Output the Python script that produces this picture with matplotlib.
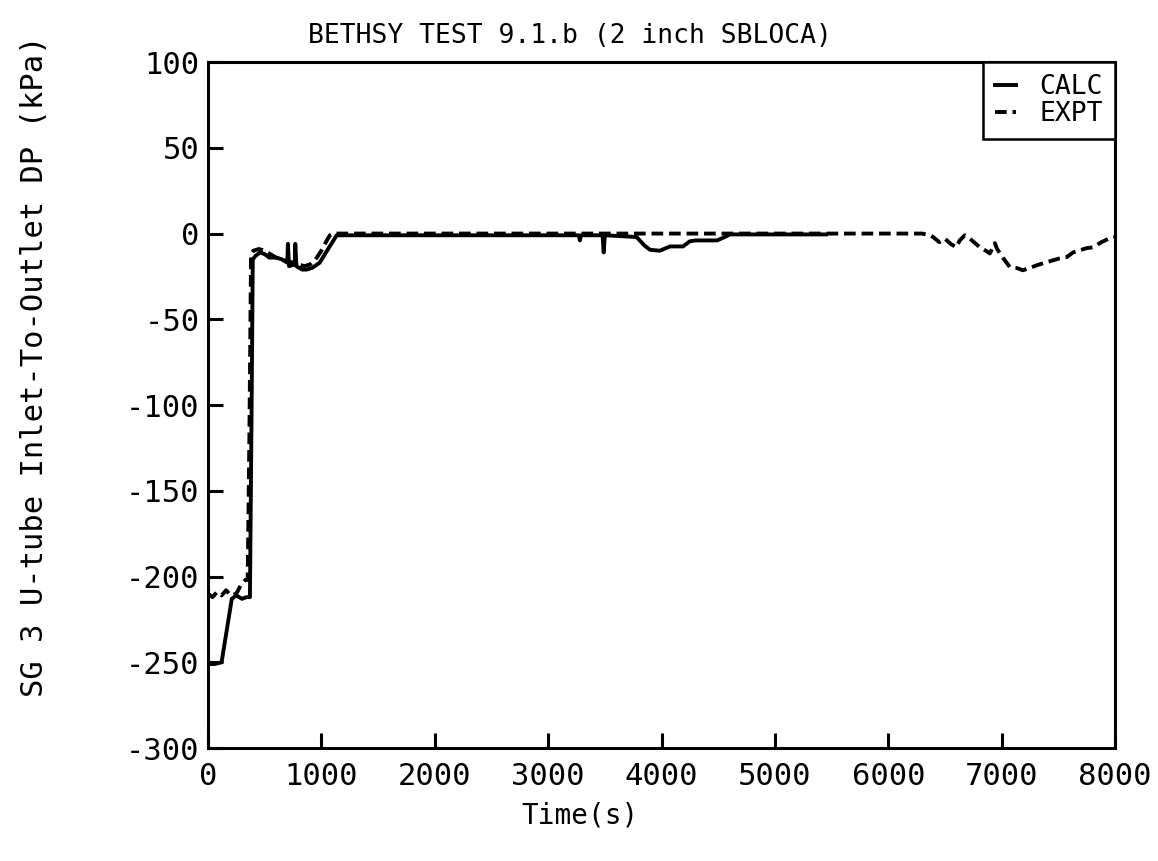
#!/usr/bin/env python3
"""BETHSY test 9.1.b SG 3 U-tube inlet-to-outlet DP, calc vs expt."""

import matplotlib
matplotlib.use("Agg")
import matplotlib.pyplot as plt

# CALC trace (s, kPa)
calc_t = [0, 60, 120, 210, 250, 300, 340, 370, 385, 395, 420, 460, 500, 540,
          600, 650, 700, 705, 715, 765, 770, 780, 830, 870, 920, 985, 1050,
          1135, 1200, 2000, 3000, 3270, 3280, 3290, 3480, 3490, 3500, 3780,
          3850, 3900, 3985, 4075, 4190, 4250, 4300, 4490, 4575, 4600, 5450]
calc_p = [-251, -251, -250, -213, -211, -213, -212, -212, -100, -15, -13, -11,
          -12, -14, -14, -15, -17, -6, -19, -18, -6, -19, -21, -21, -20, -17,
          -10, -1, -1, -1, -1, -1, -4, -1, -1, -11, -1, -2, -7, -9.5, -10,
          -7.5, -7.5, -4.5, -4, -4, -1.5, -0.5, -0.5]

# EXPT trace (s, kPa)
expt_t = [0, 40, 80, 120, 160, 200, 250, 290, 330, 350, 365, 380, 400, 450,
          500, 550, 600, 650, 700, 750, 800, 850, 900, 950, 1000, 1040, 1075,
          1100, 2000, 3000, 4000, 5000, 5900, 6300, 6365, 6395, 6450, 6500,
          6550, 6600, 6630, 6675, 6720, 6808, 6860, 6896, 6940, 6960, 7010,
          7072, 7130, 7187, 7250, 7310, 7380, 7452, 7510, 7575, 7630, 7690,
          7750, 7805, 7880, 7955, 8000]
expt_p = [-210, -212, -209, -211, -208, -211, -210, -205, -202, -202, -120,
          -12, -10, -9, -10, -12, -14, -15, -16, -17, -18, -19, -18, -15, -10,
          -5, -1, 0, 0, 0, 0, 0, 0, 0, -1, -2, -5, -3, -6, -8, -4, -1, -3, -8,
          -10, -11.6, -5.6, -9, -14, -19.5, -20, -21.4, -20, -18.5, -17, -15.6,
          -14.5, -13.7, -11, -9.7, -8.5, -8, -5, -2.7, -2]

x_ticks = [0, 1000, 2000, 3000, 4000, 5000, 6000, 7000, 8000]
y_ticks = [-300, -250, -200, -150, -100, -50, 0, 50, 100]

plt.rcParams["font.family"] = ["DejaVu Sans Mono"]

fig = plt.figure(figsize=(11.58, 8.61), dpi=100)
ax = fig.add_axes([0.1796, 0.1312, 0.7833, 0.7967])

ax.plot(calc_t, calc_p, color="black", linewidth=2.8, label="CALC")
ax.plot(expt_t, expt_p, color="black", linewidth=2.8, linestyle=(0, (3, 1.5)),
        label="EXPT")

ax.set_xlim(0, 8000)
ax.set_ylim(-300, 100)
ax.set_xticks(x_ticks)
ax.set_yticks(y_ticks)
ax.set_xticklabels([str(v) for v in x_ticks])
ax.set_yticklabels([str(v) for v in y_ticks])
ax.tick_params(direction="in", length=11, width=2.2, labelsize=22,
               top=False, right=False)
ax.tick_params(axis="x", pad=10)
ax.tick_params(axis="y", pad=6)
for spine in ax.spines.values():
  spine.set_linewidth(2.2)

leg = ax.legend(loc="upper right", borderaxespad=0, fancybox=False,
                framealpha=1, edgecolor="black", fontsize=19, handlelength=0.8,
                handletextpad=0.9, borderpad=0.45, labelspacing=0.05)
leg.get_frame().set_linewidth(1.8)

fig.text(0.492, 0.958, "BETHSY TEST 9.1.b (2 inch SBLOCA)", ha="center",
         va="center", fontsize=19)
fig.text(0.501, 0.053, "Time(s)", ha="center", va="center", fontsize=20)
fig.text(0.030, 0.575, "SG 3 U-tube Inlet-To-Outlet DP (kPa)", ha="center",
         va="center", rotation=90, fontsize=22)

fig.savefig("out.png", dpi=100)
plt.close(fig)
